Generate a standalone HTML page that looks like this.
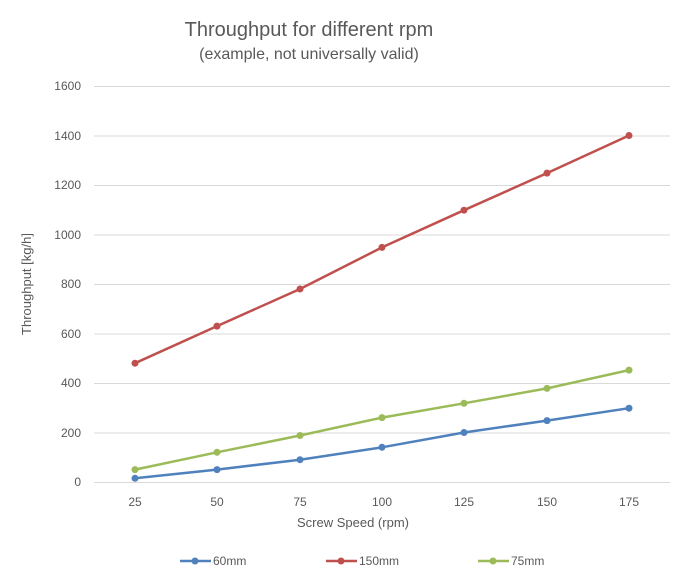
<!DOCTYPE html><html><head><style>body{margin:0;background:#fff}svg{font-family:"Liberation Sans",sans-serif}</style></head><body>
<svg width="685" height="577" xmlns="http://www.w3.org/2000/svg">
<rect width="685" height="577" fill="#fff"/>
<text x="309" y="36" font-size="20" fill="#595959" text-anchor="middle">Throughput for different rpm</text>
<text x="309" y="59" font-size="16" fill="#595959" text-anchor="middle">(example, not universally valid)</text>
<g stroke="#d9d9d9" stroke-width="1">
<line x1="94" x2="670" y1="86.5" y2="86.5"/><line x1="94" x2="670" y1="136" y2="136"/><line x1="94" x2="670" y1="185.5" y2="185.5"/><line x1="94" x2="670" y1="235" y2="235"/><line x1="94" x2="670" y1="284.5" y2="284.5"/><line x1="94" x2="670" y1="334" y2="334"/><line x1="94" x2="670" y1="383.5" y2="383.5"/><line x1="94" x2="670" y1="433" y2="433"/><line x1="94" x2="670" y1="482.5" y2="482.5"/>
</g>
<g font-size="12" fill="#595959" text-anchor="end">
<text x="81" y="90">1600</text><text x="81" y="140">1400</text><text x="81" y="189">1200</text><text x="81" y="239">1000</text><text x="81" y="288">800</text><text x="81" y="338">600</text><text x="81" y="387">400</text><text x="81" y="437">200</text><text x="81" y="486">0</text>
</g>
<g font-size="12" fill="#595959" text-anchor="middle">
<text x="135" y="506">25</text><text x="217" y="506">50</text><text x="300" y="506">75</text><text x="382" y="506">100</text><text x="464" y="506">125</text><text x="547" y="506">150</text><text x="629" y="506">175</text>
</g>
<text x="353" y="527" font-size="13" fill="#595959" text-anchor="middle">Screw Speed (rpm)</text>
<text transform="translate(31,284) rotate(-90)" font-size="13" fill="#595959" text-anchor="middle">Throughput [kg/h]</text>
<g fill="none" stroke-width="2.5">
<polyline stroke="#4f81bd" points="135,478.3 217,469.6 300,459.7 382,447.3 464,432.5 547,420.6 629,408.2"/>
<polyline stroke="#c0504d" points="135,363.2 217,326.1 300,289 382,247.4 464,210.2 547,173.1 629,135.5"/>
<polyline stroke="#9bbb59" points="135,469.6 217,452.3 300,435.5 382,417.6 464,403.3 547,388.4 629,370.1"/>
</g>
<g fill="#4f81bd"><circle cx="135" cy="478.3" r="3.5"/><circle cx="217" cy="469.6" r="3.5"/><circle cx="300" cy="459.7" r="3.5"/><circle cx="382" cy="447.3" r="3.5"/><circle cx="464" cy="432.5" r="3.5"/><circle cx="547" cy="420.6" r="3.5"/><circle cx="629" cy="408.2" r="3.5"/></g>
<g fill="#c0504d"><circle cx="135" cy="363.2" r="3.5"/><circle cx="217" cy="326.1" r="3.5"/><circle cx="300" cy="289" r="3.5"/><circle cx="382" cy="247.4" r="3.5"/><circle cx="464" cy="210.2" r="3.5"/><circle cx="547" cy="173.1" r="3.5"/><circle cx="629" cy="135.5" r="3.5"/></g>
<g fill="#9bbb59"><circle cx="135" cy="469.6" r="3.5"/><circle cx="217" cy="452.3" r="3.5"/><circle cx="300" cy="435.5" r="3.5"/><circle cx="382" cy="417.6" r="3.5"/><circle cx="464" cy="403.3" r="3.5"/><circle cx="547" cy="388.4" r="3.5"/><circle cx="629" cy="370.1" r="3.5"/></g>
<g stroke-width="2.5">
<line x1="180" x2="211" y1="561" y2="561" stroke="#4f81bd"/><circle cx="195" cy="561" r="3.5" fill="#4f81bd"/>
<line x1="326" x2="357" y1="561" y2="561" stroke="#c0504d"/><circle cx="341" cy="561" r="3.5" fill="#c0504d"/>
<line x1="478" x2="509" y1="561" y2="561" stroke="#9bbb59"/><circle cx="493" cy="561" r="3.5" fill="#9bbb59"/>
</g>
<g font-size="12" fill="#595959">
<text x="213" y="565">60mm</text><text x="359" y="565">150mm</text><text x="511" y="565">75mm</text>
</g>
</svg>
</body></html>
